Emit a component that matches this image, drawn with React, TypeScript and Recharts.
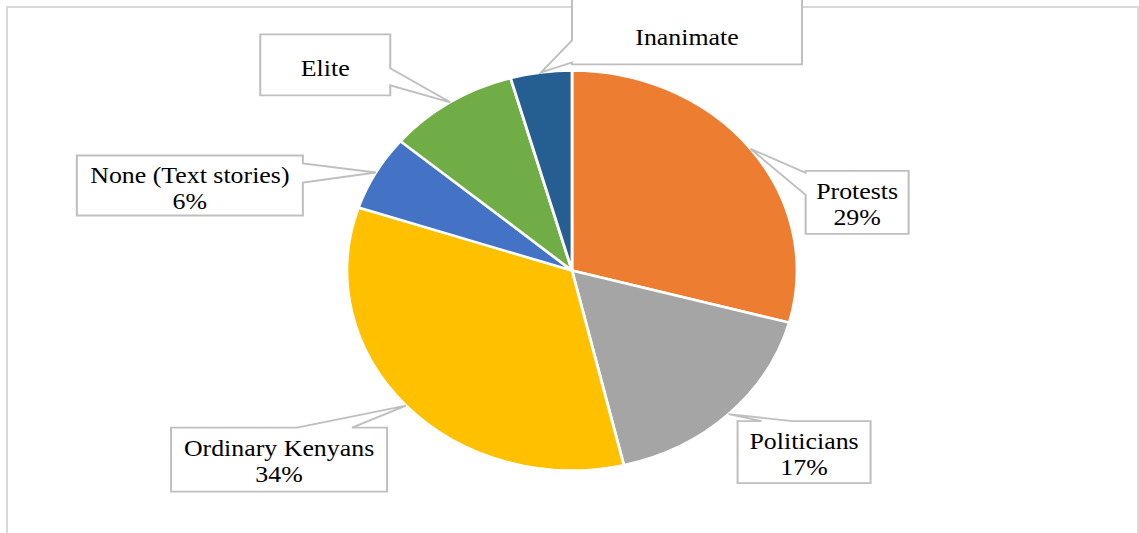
import React from "react";
import { PieChart, Pie, Cell } from "recharts";

// ---- data ----
const categories = ["Protests", "Politicians", "Ordinary Kenyans", "None (Text stories)", "Elite", "Inanimate"];
const shares = [29.2, 17.1, 33.8, 6.1, 9.4, 4.4];
const showPercent = [true, true, true, true, false, false];

// ---- style ----
const colors = ["#ED7D31", "#A5A5A5", "#FFC000", "#4472C4", "#70AD47", "#255E91"];
const SX = 1.125; // horizontal stretch of the original picture
const W = 1139;
const H = 533;

// callout box placement relative to the slice anchor (screen px), wedge side and base range
type Layout = { dx: number; dy: number; w: number; h: number; side: "left" | "right" | "top"; a: number; b: number };
const layouts: Layout[] = [
  { dx: 55, dy: 22, w: 103, h: 63, side: "left", a: 2, b: 24 },
  { dx: 9, dy: 7, w: 133, h: 62, side: "top", a: 24, b: 55 },
  { dx: -235, dy: 22, w: 216, h: 64, side: "top", a: 126, b: 181 },
  { dx: -299, dy: -17, w: 226, h: 60, side: "right", a: 8, b: 27 },
  { dx: -190, dy: -68, w: 130, h: 61, side: "right", a: 34, b: 51 },
  { dx: 31, dy: -82, w: 230, h: 74, side: "left", a: 50, b: 72 },
];

const data = categories.map((name, i) => ({ name, value: shares[i] }));

const RAD = Math.PI / 180;
const FONT = "'Liberation Serif', 'Times New Roman', serif";

const renderCallout = (props: any) => {
  const { cx, cy, midAngle, outerRadius, index, percent, name } = props;
  const ax = cx + outerRadius * Math.cos(-midAngle * RAD);
  const ay = cy + outerRadius * Math.sin(-midAngle * RAD);
  const l = layouts[index];
  const L = ax + l.dx / SX;
  const T = ay + l.dy;
  const BW = l.w / SX;
  const BH = l.h;
  const pts: [number, number][] = [];
  pts.push([L, T]);
  if (l.side === "top") {
    pts.push([L + l.a / SX, T], [ax, ay], [L + l.b / SX, T]);
  }
  pts.push([L + BW, T]);
  if (l.side === "right") {
    pts.push([L + BW, T + l.a], [ax, ay], [L + BW, T + l.b]);
  }
  pts.push([L + BW, T + BH], [L, T + BH]);
  if (l.side === "left") {
    pts.push([L, T + l.b], [ax, ay], [L, T + l.a]);
  }
  const d = "M" + pts.map((p) => `${p[0].toFixed(2)},${p[1].toFixed(2)}`).join("L") + "Z";
  const tx = L + BW / 2;
  const pct = `${Math.round(percent * 100)}%`;
  const two = showPercent[index];
  return (
    <g key={`callout-${index}`}>
      <path d={d} fill="#ffffff" stroke="#BFBFBF" strokeWidth={1.8} strokeLinejoin="miter" />
      {two ? (
        <text x={tx} textAnchor="middle" fontFamily={FONT} fontSize={23} fill="#000000">
          <tspan x={tx} y={T + 28}>{name}</tspan>
          <tspan x={tx} y={T + 54}>{pct}</tspan>
        </text>
      ) : (
        <text x={tx} y={T + BH - 19} textAnchor="middle" fontFamily={FONT} fontSize={23} fill="#000000">
          {name}
        </text>
      )}
    </g>
  );
};

export default function App() {
  return (
    <div style={{ position: "absolute", left: 0, top: 0, width: W, height: H, overflow: "hidden", background: "#fff" }}>
      <div
        style={{
          position: "absolute",
          left: 6,
          top: 6,
          width: 1129,
          height: 560,
          border: "2px solid #D9D9D9",
        }}
      />
      <div
        style={{
          position: "absolute",
          left: 0,
          top: 0,
          width: W / SX,
          height: H,
          transform: `scaleX(${SX})`,
          transformOrigin: "0 0",
        }}
      >
        <PieChart width={W / SX} height={H} margin={{ top: 0, right: 0, bottom: 0, left: 0 }}>
          <Pie
            data={data}
            dataKey="value"
            nameKey="name"
            cx={572 / SX}
            cy={270.5}
            outerRadius={200}
            startAngle={90}
            endAngle={-270}
            stroke="#ffffff"
            strokeWidth={2.5}
            label={renderCallout}
            labelLine={false}
            isAnimationActive={false}
          >
            {data.map((_, i) => (
              <Cell key={i} fill={colors[i]} />
            ))}
          </Pie>
        </PieChart>
      </div>
    </div>
  );
}
